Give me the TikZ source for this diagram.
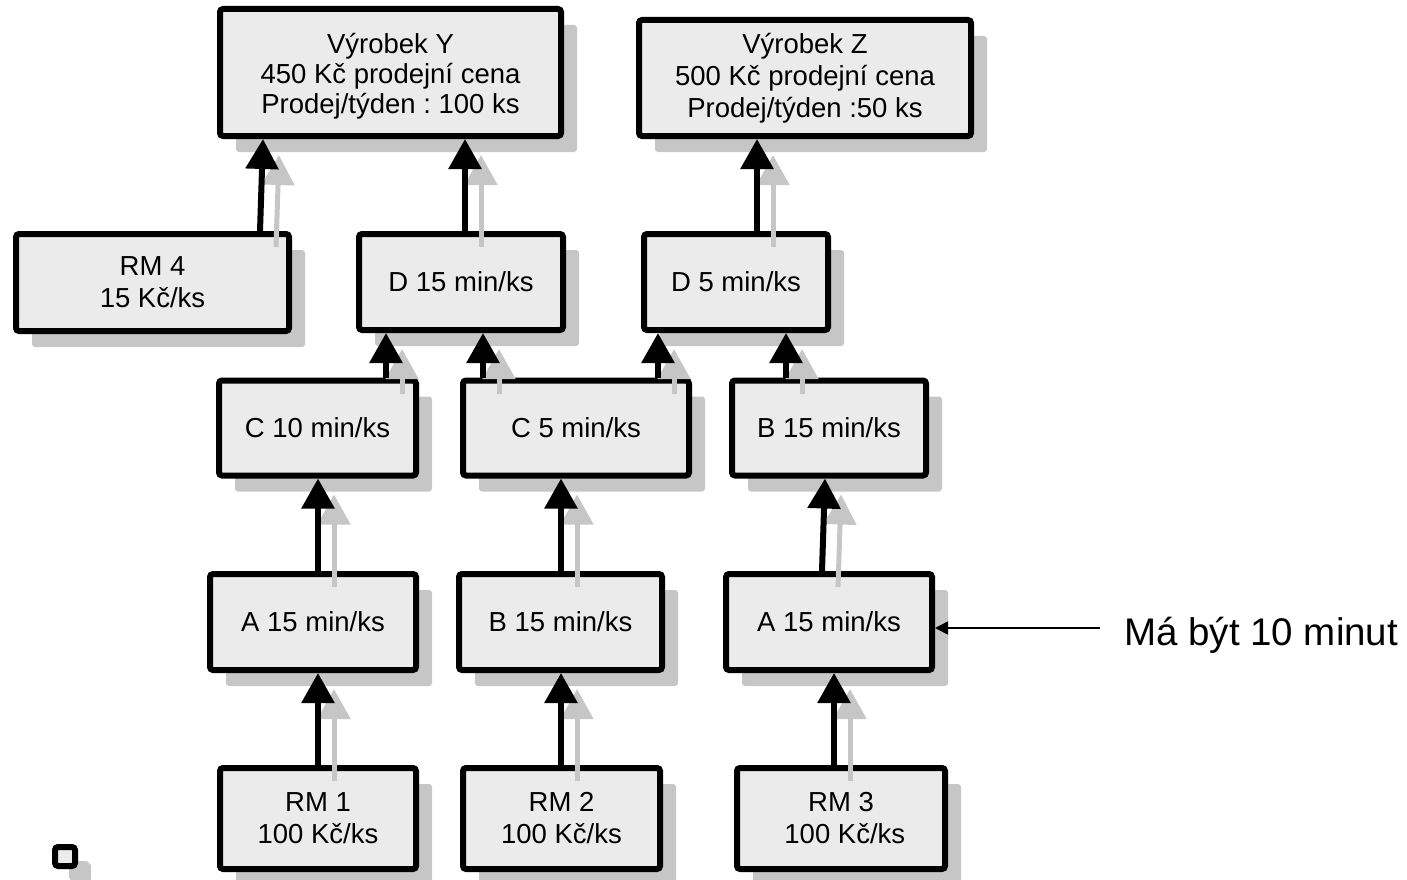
\documentclass[tikz,border=0pt]{standalone}
\usepackage{fontspec}
\setmainfont{Liberation Sans}
\usetikzlibrary{arrows.meta,shadows}
\definecolor{boxfill}{HTML}{EBEBEB}
\definecolor{shadowgray}{HTML}{C6C6C6}
\newcommand\flowarr[4]{%
  \coordinate (fa) at (#2,0);
  \coordinate (fb) at (#4,0);
  \draw[flowshadow] (#1.north -| fa) -- (#3.south -| fb);
  \draw[flow] (#1.north -| fa) -- (#3.south -| fb);}
\frenchspacing
\begin{document}
\frenchspacing
\begin{tikzpicture}[x=1pt,y=-1pt,
  box/.style={draw=black, line width=6pt, fill=boxfill, rounded corners=3pt,
    align=center, inner sep=0pt, font=\fontsize{27.5}{32}\selectfont,
    drop shadow={shadow xshift=16pt, shadow yshift=-16pt, fill=shadowgray, opacity=1}},
  flow/.style={line width=6pt, draw=black, -{Triangle[length=30pt,width=32pt]}},
  flowshadow/.style={line width=5pt, draw=shadowgray,
    -{Triangle[length=30pt,width=32pt]}, transform canvas={xshift=16pt,yshift=-16pt}},
  noteline/.style={line width=1.6pt, draw=black, -{Triangle[length=13pt,width=13pt]}},
  notetext/.style={font=\fontsize{38.5}{44}\selectfont, inner sep=0pt}]
\useasboundingbox (0,0) rectangle (1407,880);

% boxes
\node[box, font=\fontsize{27.5}{30}\selectfont, minimum width=341pt, minimum height=127pt] (y) at (390.5,72.5)
  {\raisebox{-5pt}[\height][\depth]{\begin{tabular}{@{}c@{}}Výrobek Y\\450 Kč prodejní cena\\Prodej/týden : 100 ks\end{tabular}}};
\node[box, minimum width=332pt, minimum height=116pt] (z) at (805,78)
  {Výrobek Z\\500 Kč prodejní cena\\Prodej/týden :50 ks};
\node[box, minimum width=273pt, minimum height=97pt] (rm4) at (152.5,282.5) {RM 4\\15 Kč/ks};
\node[box, minimum width=204pt, minimum height=96pt] (d15) at (461,282) {D 15 min/ks};
\node[box, minimum width=184pt, minimum height=96pt] (d5) at (736,282) {D 5 min/ks};
\node[box, minimum width=197pt, minimum height=95pt] (c10) at (317.5,428) {C 10 min/ks};
\node[box, minimum width=226pt, minimum height=95pt] (c5) at (576,428) {C 5 min/ks};
\node[box, minimum width=194pt, minimum height=95pt] (b15r) at (829,428) {B 15 min/ks};
\node[box, minimum width=206pt, minimum height=96pt] (a15) at (313,622) {A 15 min/ks};
\node[box, minimum width=203pt, minimum height=96pt] (b15m) at (560.5,622) {B 15 min/ks};
\node[box, minimum width=206pt, minimum height=96pt] (a15r) at (829,622) {A 15 min/ks};
\node[box, minimum width=196pt, minimum height=101pt] (rm1) at (318,818.5) {RM 1\\100 Kč/ks};
\node[box, minimum width=197pt, minimum height=101pt] (rm2) at (561.5,818.5) {RM 2\\100 Kč/ks};
\node[box, minimum width=208pt, minimum height=101pt] (rm3) at (841,818.5) {RM 3\\\ 100 Kč/ks};
\node[box, minimum width=20pt, minimum height=19pt, drop shadow={shadow xshift=14pt, shadow yshift=-14pt, fill=shadowgray, opacity=1}] (sq) at (65,856.5) {};

% flow arrows
\flowarr{rm4}{260}{y}{263}
\flowarr{d15}{465}{y}{465}
\flowarr{d5}{757}{z}{757}
\flowarr{c10}{386}{d15}{386}
\flowarr{c5}{483}{d15}{483}
\flowarr{c5}{658}{d5}{658}
\flowarr{b15r}{786}{d5}{786}
\flowarr{a15}{318}{c10}{318}
\flowarr{b15m}{561}{c5}{561}
\flowarr{a15r}{822}{b15r}{825}
\flowarr{rm1}{318}{a15}{318}
\flowarr{rm2}{561}{b15m}{561}
\flowarr{rm3}{834}{a15r}{834}

% note
\node[notetext, anchor=base west] (note) at (1124,645) {Má být 10 minut};
\coordinate (nstart) at (1100,628);
\draw[noteline] (nstart) -- (a15r.east |- nstart);
\end{tikzpicture}
\end{document}
